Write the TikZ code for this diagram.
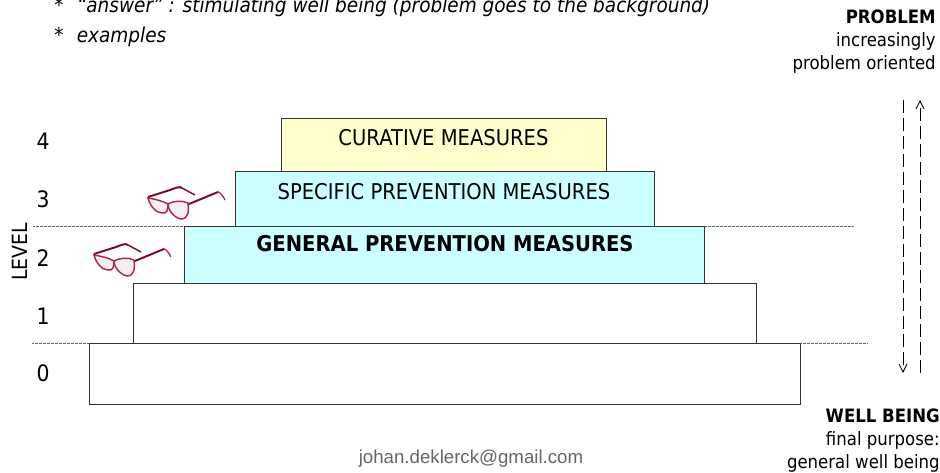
\documentclass[tikz,border=0pt]{standalone}
\usetikzlibrary{arrows.meta}
\usepackage{fontspec}
\setmainfont{DejaVu Sans}[FakeStretch=0.9]
\newfontfamily\mailfont{Liberation Sans}
\definecolor{cyanbox}{HTML}{CCFFFF}
\definecolor{yellowbox}{HTML}{FFFFCC}
\definecolor{framerim}{HTML}{B02548}
\definecolor{framedark}{HTML}{7A1028}
\definecolor{lenstint}{HTML}{F5EFF1}
\tikzset{
  level box/.style={draw=black!80,line width=0.8pt,anchor=north west,inner sep=0pt,minimum width=#1*0.75pt},
  level num/.style={font=\fontsize{17}{17}\selectfont,inner sep=0pt},
  box text/.style={font=\fontsize{16.3}{18}\selectfont,inner sep=0pt},
  side/.style={font=\fontsize{13.8}{17}\selectfont,align=right,anchor=north east,inner sep=0pt},
  guide/.style={draw=black!60,line width=0.5pt,dash pattern=on 0.6pt off 0.4pt},
  flow/.style={draw=black,line width=0.6pt,dash pattern=on 10pt off 3.5pt},
  glasses/.pic={
    \draw[framerim,line width=1.1pt,fill=lenstint] (0,2) .. controls (6,3) and (15,5) .. (20,8) .. controls (20,14) and (19,18) .. (14,17) .. controls (8,17) and (2,10) .. (0,2) -- cycle;
    \draw[framerim,line width=1.1pt,fill=lenstint] (20,8) .. controls (25,5) and (34,4) .. (40,7) .. controls (41,14) and (41,23) .. (33,23) .. controls (27,22) and (20,15) .. (20,8) -- cycle;
    \draw[framedark,line width=1.5pt] (0,1) -- (22,-6) .. controls (27,-8) and (32,-10) .. (34,-8);
    \draw[framedark,line width=1.1pt] (34,-8) -- (47,-1);
    \draw[framedark,line width=1.5pt] (41,8) -- (70,-4);
    \draw[framerim,line width=1pt] (70,-4) .. controls (72,-4) and (75,0) .. (77,4);
  }
}
\begin{document}
\begin{tikzpicture}[x=0.75pt,y=-0.75pt]
\useasboundingbox (0,0) rectangle (940,473);
\clip (0,0) rectangle (940,473);
% guide lines
\coordinate (gl2) at (33,226); \coordinate (gr2) at (854,226);
\coordinate (gl0) at (32,343); \coordinate (gr0) at (867,343);
\draw[guide] (gl2) -- (gr2);
\draw[guide] (gl0) -- (gr0);
% steps
\node[level box=711,minimum height=61*0.75pt,fill=white] (b0) at (89,343) {};
\node[level box=623,minimum height=60*0.75pt,fill=white] (b1) at (133,283) {};
\node[level box=520,minimum height=57*0.75pt,fill=cyanbox] (b2) at (184,226) {};
\node[level box=419,minimum height=55*0.75pt,fill=cyanbox] (b3) at (235,171) {};
\node[level box=325,minimum height=53*0.75pt,fill=yellowbox] (b4) at (281,118) {};
\node[box text] (t4) at (443.5,138) {CURATIVE MEASURES};
\node[box text] (t3) at (444,192) {SPECIFIC PREVENTION MEASURES};
\node[box text,font=\fontsize{16.3}{18}\selectfont\bfseries] (t2) at (445,244) {GENERAL PREVENTION MEASURES};
% level numbers
\node[level num] (n4) at (43,141) {4};
\node[level num] (n3) at (43,199) {3};
\node[level num] (n2) at (43,258) {2};
\node[level num] (n1) at (43,316) {1};
\node[level num] (n0) at (43,373) {0};
\node[rotate=90,font=\fontsize{15.7}{16}\selectfont,inner sep=0pt] (lv) at (20,252) {LEVEL};
% top text
\node[anchor=west,inner sep=0pt,font=\fontsize{15.4}{17}\selectfont\itshape] (q1) at (54,7) {*\hspace{10pt}“answer” : stimulating well being (problem goes to the background)};
\node[anchor=west,inner sep=0pt,font=\fontsize{15.4}{17}\selectfont\itshape] (q2) at (54,37) {*\hspace{10pt}examples};
% side text
\node[side] (p) at (936,10) {\textbf{PROBLEM}\\increasingly\\problem oriented};
\node[side] (w) at (940,409) {\textbf{WELL BEING}\\final purpose:\\general well being};
% arrows
\coordinate (d1) at (903,100); \coordinate (d2) at (903,373);
\coordinate (u1) at (920,373); \coordinate (u2) at (920,100);
\draw[flow,-{Straight Barb[length=6pt,width=6pt]}] (d1) -- (d2);
\draw[flow,-{Straight Barb[length=6pt,width=6pt]}] (u1) -- (u2);
% email
\node[inner sep=0pt,text=black!60,font=\mailfont\fontsize{14}{16}\selectfont] (m) at (471,459) {johan.deklerck@gmail.com};
% glasses
\pic at (148,196) {glasses};
\pic at (94,253) {glasses};
\end{tikzpicture}
\end{document}
